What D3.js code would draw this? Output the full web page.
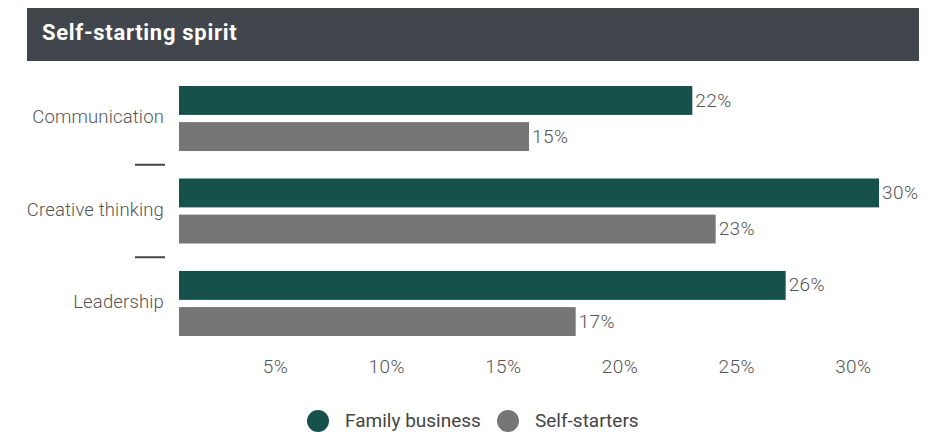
<!DOCTYPE html>
<html>
<head>
<meta charset="utf-8">
<script src="https://cdn.jsdelivr.net/npm/d3@7"></script>
<style>
  html, body { margin: 0; padding: 0; background: #fff; }
  svg { display: block; }
  text { font-family: Roboto, "Liberation Sans", sans-serif; }
</style>
</head>
<body>
<div id="chart"></div>
<script>
// Skill shares by group
const categories = ["Communication", "Creative thinking", "Leadership"];
const seriesNames = ["Family business", "Self-starters"];
const familyBusiness = [22, 30, 26];
const selfStarters = [15, 23, 17];
const tickValues = [5, 10, 15, 20, 25, 30];
const title = "Self-starting spirit";

const colors = { "Family business": "#17514c", "Self-starters": "#767676" };

const W = 938, H = 432;
const svg = d3.select("#chart").append("svg")
  .attr("width", W).attr("height", H);

// Header band
svg.append("rect")
  .attr("x", 27).attr("y", 8).attr("width", 892).attr("height", 53)
  .attr("fill", "#41464c");
svg.append("text")
  .attr("x", 42).attr("y", 40)
  .attr("fill", "#fff")
  .attr("font-size", 22).attr("font-weight", 700)
  .attr("letter-spacing", 0.7)
  .text(title);

const rows = categories.map((c, i) => ({
  category: c,
  values: [
    { series: seriesNames[0], value: familyBusiness[i] },
    { series: seriesNames[1], value: selfStarters[i] }
  ]
}));

const x = d3.scaleLinear().domain([0, 30]).range([179, 879]);
const y0 = d3.scaleBand().domain(categories).range([86, 336])
  .paddingInner(0.297).paddingOuter(0);
const y1 = d3.scaleBand().domain(seriesNames).range([0, y0.bandwidth()])
  .paddingInner(0.2).paddingOuter(0);

const groups = svg.append("g").selectAll("g")
  .data(rows).join("g")
  .attr("transform", d => `translate(0,${y0(d.category)})`);

groups.selectAll("rect")
  .data(d => d.values).join("rect")
  .attr("x", x(0))
  .attr("y", d => y1(d.series))
  .attr("width", d => x(d.value) - x(0))
  .attr("height", y1.bandwidth())
  .attr("fill", d => colors[d.series]);

groups.selectAll("text.val")
  .data(d => d.values).join("text")
  .attr("class", "val")
  .attr("x", d => x(d.value) + 3)
  .attr("y", d => y1(d.series) + y1.bandwidth() / 2)
  .attr("dy", "0.32em")
  .attr("fill", "#555")
  .attr("font-size", 19).attr("font-weight", 300)
  .attr("letter-spacing", 0.4)
  .text(d => d.value + "%");

// Category labels
groups.append("text")
  .attr("x", 164)
  .attr("y", y0.bandwidth() / 2)
  .attr("dy", "0.26em")
  .attr("text-anchor", "end")
  .attr("fill", "#555")
  .attr("font-size", 18.5).attr("font-weight", 300)
  .attr("letter-spacing", 0.15)
  .text(d => d.category);

// Short separators between groups
const gap = y0.step() - y0.bandwidth();
svg.append("g").selectAll("line")
  .data(categories.slice(0, -1)).join("line")
  .attr("x1", 135).attr("x2", 165)
  .attr("y1", d => y0(d) + y0.bandwidth() + gap / 2)
  .attr("y2", d => y0(d) + y0.bandwidth() + gap / 2)
  .attr("stroke", "#444").attr("stroke-width", 2);

// Value axis
const axis = svg.append("g")
  .attr("transform", "translate(0,352)")
  .call(d3.axisBottom(x).tickValues(tickValues).tickSize(0)
    .tickFormat(d => d + "%"));
axis.select(".domain").remove();
axis.selectAll("text")
  .attr("text-anchor", "end")
  .attr("dx", -8)
  .attr("dy", "0.95em")
  .attr("fill", "#555")
  .attr("font-size", 19).attr("font-weight", 300)
  .attr("letter-spacing", 0.4)
  .style("font-family", "Roboto, 'Liberation Sans', sans-serif");

// Legend
const legendPos = [318, 508];
const legend = svg.append("g").selectAll("g")
  .data(seriesNames).join("g")
  .attr("transform", (d, i) => `translate(${legendPos[i]},421)`);
legend.append("circle").attr("r", 11).attr("fill", d => colors[d]);
legend.append("text")
  .attr("x", 27).attr("y", 6)
  .attr("fill", "#444")
  .attr("font-size", 19).attr("font-weight", 400)
  .text(d => d);
</script>
</body>
</html>
